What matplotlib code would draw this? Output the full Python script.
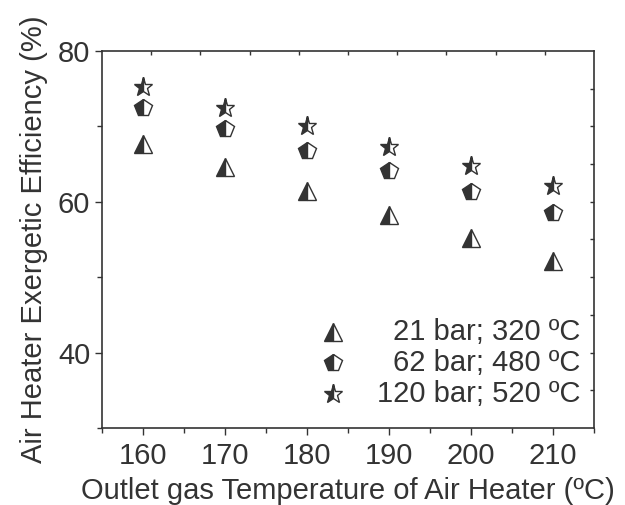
import numpy as np
import matplotlib
matplotlib.use("Agg")
import matplotlib.pyplot as plt
from matplotlib.ticker import MultipleLocator, FixedLocator

# -------- data --------
temps = [160, 170, 180, 190, 200, 210]
eff_21bar = [67.7, 64.6, 61.4, 58.3, 55.2, 52.1]
eff_62bar = [72.5, 69.6, 66.8, 64.1, 61.3, 58.5]
eff_120bar = [75.2, 72.5, 70.0, 67.3, 64.7, 62.1]
labels = ["21 bar; 320 ºC", "62 bar; 480 ºC", "120 bar; 520 ºC"]
# ----------------------------------------------

plt.rcParams["font.family"] = ["Liberation Sans", "DejaVu Sans"]
INK = "#333333"
FS = 21

fig = plt.figure(figsize=(6.25, 5.05), dpi=100)
ax = fig.add_axes([0.1632, 0.1525, 0.7872, 0.7465])

series = [
    (eff_21bar, "^", 13),
    (eff_62bar, "p", 13),
    (eff_120bar, "*", 14),
]

for vals, mk, ms in series:
    ax.plot(temps, vals, linestyle="none", marker=mk, markersize=ms,
            fillstyle="left", markerfacecolor=INK, markerfacecoloralt="white",
            markeredgecolor=INK, markeredgewidth=1.0)

# legend built by hand so that the texts are right aligned
leg_y = [0.255, 0.172, 0.089]
for (vals, mk, ms), lab, yy in zip(series, labels, leg_y):
    ax.plot([0.47], [yy], transform=ax.transAxes, linestyle="none",
            marker=mk, markersize=ms, fillstyle="left",
            markerfacecolor=INK, markerfacecoloralt="white",
            markeredgecolor=INK, markeredgewidth=1.0, clip_on=False)
    ax.text(0.972, yy, lab, transform=ax.transAxes, ha="right", va="center",
            fontsize=FS, color=INK)

ax.set_xlim(155, 215)
ax.set_ylim(30, 80)

ax.xaxis.set_major_locator(FixedLocator(temps))
ax.xaxis.set_minor_locator(MultipleLocator(5))
ax.yaxis.set_major_locator(FixedLocator([40, 60, 80]))
ax.yaxis.set_minor_locator(MultipleLocator(10))

ax.tick_params(which="both", direction="out", colors=INK, labelsize=FS,
               top=False, right=False)
ax.tick_params(which="major", length=5, width=1)
ax.tick_params(which="minor", length=3.5, width=1)
ax.tick_params(axis="x", pad=5)

for s in ax.spines.values():
    s.set_color(INK)
    s.set_linewidth(1.2)

# inward ticks on the top and right sides
top = ax.secondary_xaxis("top")
top.set_xticks(np.arange(161, 210, 6))
top.tick_params(direction="in", length=3, width=1, colors=INK, labeltop=False)
top.spines["top"].set_visible(False)

right = ax.secondary_yaxis("right")
right.set_yticks(np.arange(35, 76, 5))
right.tick_params(direction="in", length=3, width=1, colors=INK, labelright=False)
right.spines["right"].set_visible(False)

ax.set_xlabel("Outlet gas Temperature of Air Heater (ºC)", fontsize=FS,
              color=INK, labelpad=5)
ax.set_ylabel("Air Heater Exergetic Efficiency (%)", fontsize=FS,
              color=INK, labelpad=7)

fig.savefig("out.png", dpi=100, facecolor="white")
